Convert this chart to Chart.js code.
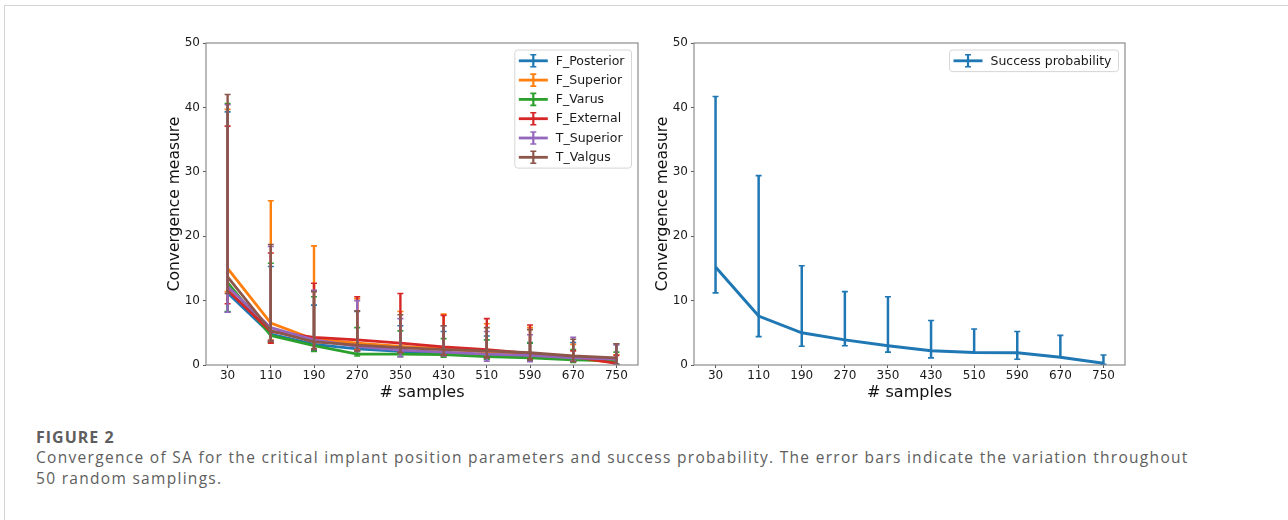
<!DOCTYPE html>
<html>
<head>
<meta charset="utf-8">
<script src="https://cdn.jsdelivr.net/npm/chart.js@4.4.0/dist/chart.umd.min.js"></script>
<style>
html,body{margin:0;padding:0;background:#fff;width:1288px;height:520px;overflow:hidden;}
#frame{position:absolute;left:4px;top:5px;width:1400px;height:600px;border-top:1px solid #d4d4d4;border-left:1px solid #d4d4d4;}
.wrap{position:absolute;top:30px;height:380px;}
#w1{left:150px;width:500px;}
#w2{left:640px;width:500px;}
#cap{position:absolute;left:36px;top:427px;font-family:'Open Sans',sans-serif;color:#5e5e5e;white-space:nowrap;}
#cap .fig{font-size:16px;line-height:20px;font-weight:700;letter-spacing:1px;}
#cap .txt{font-size:15.5px;line-height:20.5px;margin-top:0px;letter-spacing:1.3px;}
</style>
</head>
<body>
<div id="frame"></div>
<div class="wrap" id="w1"><canvas id="c1" width="500" height="380"></canvas></div>
<div class="wrap" id="w2"><canvas id="c2" width="500" height="380"></canvas></div>
<div id="cap">
  <div class="fig">FIGURE 2</div>
  <div class="txt">Convergence of SA for the critical implant position parameters and success probability. The error bars indicate the variation throughout<br>50 random samplings.</div>
</div>
<script>
// ---------- data ----------
const samples = ['30','110','190','270','350','430','510','590','670','750'];
const yTicks = [0,10,20,30,40,50];

const seriesNames = ['F_Posterior','F_Superior','F_Varus','F_External','T_Superior','T_Valgus'];
const seriesColors = ['#1f77b4','#ff7f0e','#2ca02c','#d62728','#9467bd','#8c564b'];

const fPosterior     = [11.2, 4.8, 3.2, 2.5, 2.1, 1.8, 1.5, 1.3, 0.9, 0.8];
const fPosteriorHigh = [39.3, 15.3, 9.3, 8.3, 6.1, 5.2, 4.5, 3.5, 3.5, 3.3];
const fPosteriorLow  = [8.2, 3.6, 2.3, 2.1, 1.7, 1.4, 1.0, 0.8, 0.6, 0.0];

const fSuperior      = [15.0, 6.5, 4.0, 3.4, 2.9, 2.5, 2.0, 1.5, 1.0, 0.4];
const fSuperiorHigh  = [39.7, 25.5, 18.5, 10.3, 8.3, 7.9, 6.4, 5.8, 3.2, 1.6];
const fSuperiorLow   = [11.4, 3.9, 2.5, 2.4, 1.9, 1.5, 1.2, 0.9, 0.5, 0.0];

const fVarus         = [12.8, 4.6, 3.0, 1.7, 1.7, 1.6, 1.3, 1.1, 0.8, 0.7];
const fVarusHigh     = [40.6, 15.8, 10.6, 5.8, 5.3, 4.1, 3.9, 3.4, 2.4, 2.0];
const fVarusLow      = [8.3, 3.5, 2.1, 1.4, 1.3, 1.2, 0.9, 0.7, 0.4, 0.2];

const fExternal      = [11.6, 5.2, 4.3, 3.9, 3.4, 2.8, 2.4, 1.8, 1.3, 0.25];
const fExternalHigh  = [37.1, 17.4, 12.7, 10.6, 11.1, 7.7, 7.2, 6.2, 2.2, 1.5];
const fExternalLow   = [9.5, 3.4, 2.4, 2.3, 2.0, 1.6, 1.2, 0.9, 0.6, 0.0];

const tSuperior      = [12.2, 5.8, 3.9, 2.9, 2.3, 2.0, 1.7, 1.5, 1.1, 0.9];
const tSuperiorHigh  = [40.4, 18.4, 11.6, 10.0, 7.2, 6.1, 5.2, 4.7, 4.3, 3.1];
const tSuperiorLow   = [8.2, 3.8, 2.5, 2.1, 1.3, 1.4, 0.6, 0.5, 0.6, 0.1];

const tValgus        = [13.7, 5.3, 3.6, 3.1, 2.7, 2.4, 2.2, 1.9, 1.4, 1.1];
const tValgusHigh    = [42.0, 18.7, 11.4, 8.4, 7.8, 6.1, 5.8, 5.5, 4.0, 3.3];
const tValgusLow     = [11.1, 3.7, 2.5, 2.2, 1.9, 1.5, 1.1, 0.8, 0.5, 0.0];

const successProb     = [15.2, 7.6, 5.0, 3.9, 3.0, 2.2, 1.95, 1.9, 1.2, 0.26];
const successProbHigh = [41.7, 29.4, 15.4, 11.4, 10.6, 6.9, 5.6, 5.2, 4.6, 1.55];
const successProbLow  = [11.2, 4.4, 2.9, 3.0, 2.0, 1.1, 1.9, 0.9, 1.2, 0.1];

// ---------- plugins ----------
const FONT = "'DejaVu Sans', sans-serif";

const errorBars = {
  id: 'errorBars',
  afterDatasetDraw(chart, args) {
    const ds = chart.data.datasets[args.index];
    if (!ds.errLow) return;
    const xs = chart.scales.x, ys = chart.scales.y, ctx = chart.ctx, a = chart.chartArea;
    const cap = ds.capHalf || 3;
    ctx.save();
    ctx.beginPath(); ctx.rect(a.left, a.top - 1, a.right - a.left, a.bottom - a.top + 1); ctx.clip();
    ctx.strokeStyle = ds.borderColor;
    ds.data.forEach((v, i) => {
      const px = xs.getPixelForValue(i);
      const pl = ys.getPixelForValue(ds.errLow[i]);
      const ph = ys.getPixelForValue(ds.errHigh[i]);
      ctx.lineWidth = ds.errWidth || 2;
      ctx.beginPath(); ctx.moveTo(px, pl); ctx.lineTo(px, ph); ctx.stroke();
      ctx.lineWidth = 1.6;
      ctx.beginPath();
      ctx.moveTo(px - cap, pl); ctx.lineTo(px + cap, pl);
      ctx.moveTo(px - cap, ph); ctx.lineTo(px + cap, ph);
      ctx.stroke();
    });
    ctx.restore();
  }
};

const frameBox = {
  id: 'frameBox',
  afterDraw(chart) {
    const a = chart.chartArea, ctx = chart.ctx;
    ctx.save();
    ctx.strokeStyle = '#8c8c8c'; ctx.lineWidth = 1.2;
    ctx.strokeRect(a.left, a.top, a.right - a.left, a.bottom - a.top);
    ctx.restore();
  }
};

const errLegend = {
  id: 'errLegend',
  afterDraw(chart) {
    const ctx = chart.ctx, a = chart.chartArea;
    const items = chart.data.datasets;
    ctx.save();
    ctx.font = '12.5px ' + FONT;
    let maxW = 0;
    items.forEach(d => { maxW = Math.max(maxW, ctx.measureText(d.label).width); });
    const rowH = 19.3, padV = 10.8;
    const w = 41 + maxW + 7;
    const h = padV * 2 + rowH * (items.length - 1);
    const bx = a.right - 6.5 - w, by = a.top + 7;
    ctx.beginPath();
    ctx.roundRect(bx, by, w, h, 3);
    ctx.fillStyle = 'rgba(255,255,255,0.85)'; ctx.fill();
    ctx.strokeStyle = '#d6d6d6'; ctx.lineWidth = 1; ctx.stroke();
    items.forEach((d, i) => {
      const cy = by + padV + i * rowH;
      const cx = bx + 18.5;
      ctx.strokeStyle = d.borderColor;
      ctx.lineWidth = 2.8;
      ctx.beginPath(); ctx.moveTo(cx - 14.5, cy); ctx.lineTo(cx + 14.5, cy); ctx.stroke();
      ctx.lineWidth = 2.2;
      ctx.beginPath(); ctx.moveTo(cx, cy - 6); ctx.lineTo(cx, cy + 6); ctx.stroke();
      ctx.lineWidth = 1.6;
      ctx.beginPath(); ctx.moveTo(cx - 3, cy - 6); ctx.lineTo(cx + 3, cy - 6);
      ctx.moveTo(cx - 3, cy + 6); ctx.lineTo(cx + 3, cy + 6); ctx.stroke();
      ctx.fillStyle = '#1a1a1a';
      ctx.textAlign = 'left'; ctx.textBaseline = 'middle';
      ctx.fillText(d.label, bx + 41, cy + 0.5);
    });
    ctx.restore();
  }
};

function makeOptions(yW, padRight, yTitlePad) {
  return {
    responsive: false,
    animation: false,
    events: [],
    layout: { padding: { top: 13, right: padRight, left: 0, bottom: 0 } },
    plugins: { legend: { display: false }, tooltip: { enabled: false } },
    elements: { point: { radius: 0 }, line: { tension: 0 } },
    scales: {
      x: {
        type: 'category',
        offset: true,
        grid: { display: true, drawOnChartArea: false, drawTicks: true, tickLength: 3, color: '#555', lineWidth: 1 },
        border: { display: false },
        ticks: { font: { family: FONT, size: 12 }, color: '#1a1a1a', padding: 1, maxRotation: 0, autoSkip: false },
        title: { display: true, text: '# samples', font: { family: FONT, size: 16 }, color: '#111', padding: { top: 0, bottom: 8 } },
        afterFit: s => { s.height = 45; }
      },
      y: {
        min: 0, max: 50,
        afterBuildTicks: s => { s.ticks = yTicks.map(v => ({ value: v })); },
        grid: { display: true, drawOnChartArea: false, drawTicks: true, tickLength: 3, color: '#555', lineWidth: 1 },
        border: { display: false },
        ticks: { font: { family: FONT, size: 12 }, color: '#1a1a1a', padding: 3 },
        title: { display: true, text: 'Convergence measure', font: { family: FONT, size: 15.5 }, color: '#111', padding: { top: yTitlePad, bottom: 0 } },
        afterFit: s => { s.width = yW; }
      }
    }
  };
}

// ---------- left chart ----------
const leftMeans = [fPosterior, fSuperior, fVarus, fExternal, tSuperior, tValgus];
const leftHigh  = [fPosteriorHigh, fSuperiorHigh, fVarusHigh, fExternalHigh, tSuperiorHigh, tValgusHigh];
const leftLow   = [fPosteriorLow, fSuperiorLow, fVarusLow, fExternalLow, tSuperiorLow, tValgusLow];

new Chart(document.getElementById('c1'), {
  type: 'line',
  data: {
    labels: samples,
    datasets: seriesNames.map((name, i) => ({
      label: name,
      data: leftMeans[i],
      errHigh: leftHigh[i],
      errLow: leftLow[i],
      borderColor: seriesColors[i],
      backgroundColor: seriesColors[i],
      borderWidth: 2.8,
      errWidth: 2.4,
      capHalf: 3,
      fill: false,
      order: seriesNames.length - i
    }))
  },
  options: makeOptions(56, 12, 16),
  plugins: [errorBars, frameBox, errLegend]
});

// ---------- right chart ----------
new Chart(document.getElementById('c2'), {
  type: 'line',
  data: {
    labels: samples,
    datasets: [{
      label: 'Success probability',
      data: successProb,
      errHigh: successProbHigh,
      errLow: successProbLow,
      borderColor: '#1f77b4',
      backgroundColor: '#1f77b4',
      borderWidth: 3,
      errWidth: 2.5,
      capHalf: 3,
      fill: false
    }]
  },
  options: makeOptions(54, 15, 14),
  plugins: [errorBars, frameBox, errLegend]
});
</script>
</body>
</html>
